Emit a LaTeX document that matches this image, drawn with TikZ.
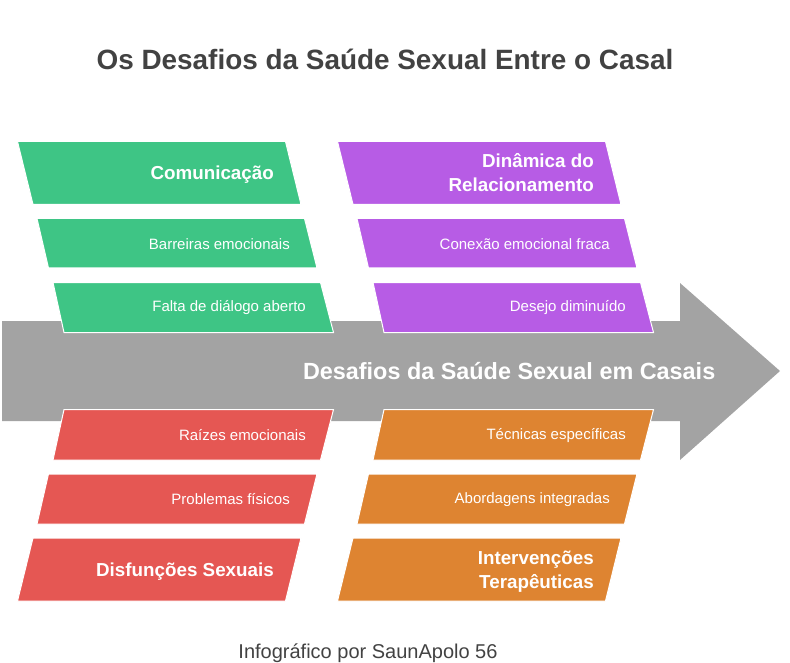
\documentclass[tikz,border=0pt]{standalone}
\usepackage{fontspec}
\setmainfont{Liberation Sans}
\definecolor{slabgreen}{HTML}{3EC585}
\definecolor{slabpurple}{HTML}{B75CE5}
\definecolor{slabred}{HTML}{E55753}
\definecolor{slaborange}{HTML}{DE8431}
\definecolor{shaft}{HTML}{A3A3A3}
\definecolor{ink}{HTML}{424242}
\tikzset{
  slab/.style={draw=white,line width=1pt},
  head/.style={anchor=east,align=right,inner sep=0pt,text=white,font=\fontsize{18.8}{24}\selectfont\bfseries},
  item/.style={anchor=east,inner sep=0pt,text=white,font=\fontsize{15}{18}\selectfont}
}
\begin{document}
\begin{tikzpicture}[x=1pt,y=-1pt]
  \useasboundingbox (0,0) rectangle (790,663);
  \node (title) at (385,59.5) [text=ink,font=\fontsize{27.9}{32}\selectfont\bfseries] {Os Desafios da Saúde Sexual Entre o Casal};
  % arrow
  \fill [shaft] (2,321) -- (680,321) -- (680,283) -- (780,371) -- (680,460) -- (680,421) -- (2,421) -- cycle;
  \node (spine) at (715.5,371) [anchor=east,inner sep=0pt,text=white,font=\fontsize{23.4}{28}\selectfont\bfseries] {Desafios da Saúde Sexual em Casais};
  % upper slabs
  \foreach \dx/\tone in {0/slabgreen,320/slabpurple}
  {
    \begin{scope}[xshift=\dx pt]
      \draw [slab,fill=\tone] (17.5,141.5) -- (285.5,141.5) -- (301,204.5) -- (33,204.5) -- cycle;
      \draw [slab,fill=\tone] (37,218.5) -- (304.5,218.5) -- (317,268) -- (48.5,268) -- cycle;
      \draw [slab,fill=\tone] (53,282.5) -- (320.5,282.5) -- (333.5,332.5) -- (64,332.5) -- cycle;
    \end{scope}
  }
  % lower slabs
  \foreach \dx/\tone in {0/slabred,320/slaborange}
  {
    \begin{scope}[xshift=\dx pt]
      \draw [slab,fill=\tone] (64,409.5) -- (333.5,409.5) -- (320.5,460) -- (53,460) -- cycle;
      \draw [slab,fill=\tone] (48.5,474) -- (317,474) -- (304.5,524) -- (37,524) -- cycle;
      \draw [slab,fill=\tone] (33,538) -- (301,538) -- (285.5,601) -- (17.5,601) -- cycle;
    \end{scope}
  }
  \node (comm) at (274,175) [head] {Comunicação};
  \node (barr) at (290,244) [item] {Barreiras emocionais};
  \node (fala) at (306,307.5) [item] {Falta de diálogo aberto};
  \node (dyna) at (594,173) [head] {Dinâmica do\\Relacionamento};
  \node (conx) at (610,244) [item] {Conexão emocional fraca};
  \node (desj) at (626,308) [item] {Desejo diminuído};
  \node (raiz) at (306,435) [item] {Raízes emocionais};
  \node (prob) at (290,499) [item] {Problemas físicos};
  \node (disf) at (274,571.5) [head] {Disfunções Sexuais};
  \node (tecn) at (626,436) [item] {Técnicas específicas};
  \node (abor) at (610,500) [item] {Abordagens integradas};
  \node (intv) at (594,571.5) [head] {Intervenções\\Terapêuticas};
  \node (foot) at (368,653) [text=ink,font=\fontsize{20}{24}\selectfont] {Infográfico por SaunApolo 56};
\end{tikzpicture}
\end{document}
